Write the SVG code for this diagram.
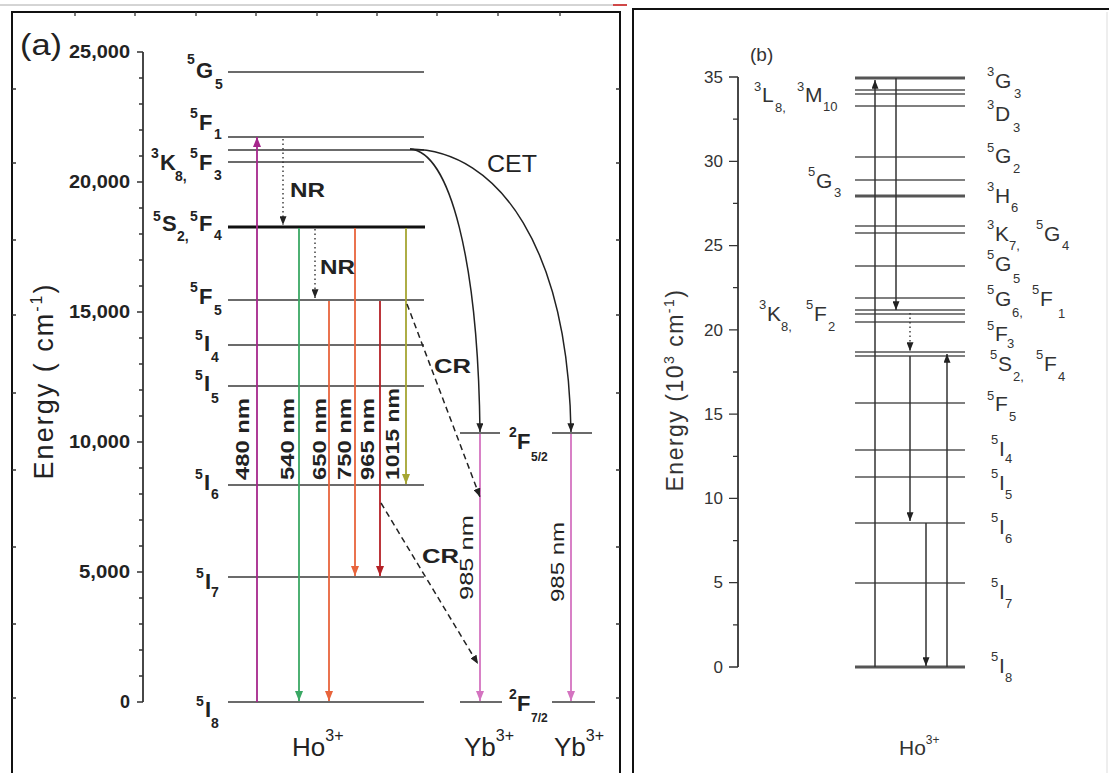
<svg xmlns="http://www.w3.org/2000/svg" width="1109" height="773" viewBox="0 0 1109 773">
<style>
.fr{stroke:#111;stroke-width:2;fill:none}
.tk{stroke:#333;stroke-width:1.3}
.ax{stroke:#333;stroke-width:1.8;fill:none}
.lv{stroke:#3a3a3a;stroke-width:1.6}
.lvb{stroke:#111;stroke-width:3}
.lvr{stroke:#555;stroke-width:1.5}
.lvrb{stroke:#555;stroke-width:3}
.ta{font-family:"Liberation Sans",Arial,sans-serif;font-weight:bold;fill:#222}
.tr{font-family:"Liberation Sans",Arial,sans-serif;fill:#333}
.m{font-size:22px}.s{font-size:14px}
.mr{font-size:21px}.sr{font-size:13px}
.wl{font-family:"Liberation Sans",Arial,sans-serif;font-weight:bold;font-size:18px;fill:#222}
.yb{font-family:"Liberation Sans",Arial,sans-serif;font-size:19px;fill:#222}
.dot{stroke:#333;stroke-width:1.4;stroke-dasharray:1.5,3;fill:none}
.dash{stroke:#222;stroke-width:1.5;stroke-dasharray:6,4;fill:none}
.cet{stroke:#222;stroke-width:1.5;fill:none}
.vr{stroke:#333;stroke-width:1.5;fill:none}
</style>
<defs>
<marker id="aK" viewBox="0 0 10 8" refX="10" refY="4" markerWidth="9" markerHeight="7" markerUnits="userSpaceOnUse" orient="auto"><path d="M0,0L10,4L0,8z" fill="#222"/></marker>
<marker id="aM" viewBox="0 0 10 8" refX="10" refY="4" markerWidth="10" markerHeight="8" markerUnits="userSpaceOnUse" orient="auto"><path d="M0,0L10,4L0,8z" fill="#a6268c"/></marker>
<marker id="aG" viewBox="0 0 10 8" refX="10" refY="4" markerWidth="10" markerHeight="8" markerUnits="userSpaceOnUse" orient="auto"><path d="M0,0L10,4L0,8z" fill="#3aa864"/></marker>
<marker id="aO" viewBox="0 0 10 8" refX="10" refY="4" markerWidth="10" markerHeight="8" markerUnits="userSpaceOnUse" orient="auto"><path d="M0,0L10,4L0,8z" fill="#e8643c"/></marker>
<marker id="aR" viewBox="0 0 10 8" refX="10" refY="4" markerWidth="10" markerHeight="8" markerUnits="userSpaceOnUse" orient="auto"><path d="M0,0L10,4L0,8z" fill="#b52025"/></marker>
<marker id="aY" viewBox="0 0 10 8" refX="10" refY="4" markerWidth="10" markerHeight="8" markerUnits="userSpaceOnUse" orient="auto"><path d="M0,0L10,4L0,8z" fill="#a5a532"/></marker>
<marker id="aP" viewBox="0 0 10 8" refX="10" refY="4" markerWidth="10" markerHeight="8" markerUnits="userSpaceOnUse" orient="auto"><path d="M0,0L10,4L0,8z" fill="#d473c0"/></marker>
</defs>
<rect width="1109" height="773" fill="#fff"/>

<g id="frames">
<line x1="0" y1="5" x2="613" y2="5" stroke="#aaa" stroke-width="1"/>
<line x1="613" y1="5" x2="627" y2="5" stroke="#d04848" stroke-width="2"/>
<path class="fr" d="M12,790V12H620V790"/>
<path class="fr" d="M633,790V9H1109"/>
<line x1="1107" y1="12" x2="1107" y2="773" stroke="#ddd" stroke-width="1"/>
<path class="tk" d="M12,89h4M12,163h4M12,240h4M12,315h4M12,393h4M12,470h4M12,547h4M12,624h4M12,698h4
M620,89h-4M620,163h-4M620,240h-4M620,315h-4M620,393h-4M620,470h-4M620,547h-4M620,624h-4M620,698h-4
M75,12v4M135,12v4M196,12v4M256,12v4M317,12v4M377,12v4M437,12v4M498,12v4M560,12v4"/>
</g>

<g id="axis-a">
<text x="20" y="55" font-family="Liberation Sans,Arial,sans-serif" font-size="30" fill="#222" textLength="42" lengthAdjust="spacingAndGlyphs">(a)</text>
<path class="ax" d="M143,52V702"/>
<path class="tk" d="M137,52h6M137,182h6M137,312h6M137,442h6M137,572h6M137,702h6
M139,78h4M139,104h4M139,130h4M139,156h4M139,208h4M139,234h4M139,260h4M139,286h4M139,338h4M139,364h4M139,390h4M139,416h4M139,468h4M139,494h4M139,520h4M139,546h4M139,598h4M139,624h4M139,650h4M139,676h4"/>
<g class="ta" font-size="18" text-anchor="end">
<text x="130" y="58" textLength="61" lengthAdjust="spacingAndGlyphs">25,000</text>
<text x="130" y="188" textLength="61" lengthAdjust="spacingAndGlyphs">20,000</text>
<text x="130" y="318" textLength="61" lengthAdjust="spacingAndGlyphs">15,000</text>
<text x="130" y="448" textLength="61" lengthAdjust="spacingAndGlyphs">10,000</text>
<text x="130" y="578" textLength="51" lengthAdjust="spacingAndGlyphs">5,000</text>
<text x="130" y="708">0</text>
</g>
<text transform="translate(53,381) rotate(-90)" text-anchor="middle" font-family="Liberation Sans,Arial,sans-serif" font-size="27" letter-spacing="2" fill="#222">Energy ( cm<tspan font-size="16" dy="-11">-1</tspan><tspan dy="11">)</tspan></text>
</g>

<g id="level-a-5G5"><line class="lv" x1="228" y1="72" x2="424" y2="72" stroke="#666"/><text class="ta"><tspan class="s" x="187" y="64">5</tspan><tspan class="m" x="196" y="78">G</tspan><tspan class="s" x="215" y="89">5</tspan></text></g>
<g id="level-a-5F1"><line class="lv" x1="228" y1="137" x2="424" y2="137"/><text class="ta"><tspan class="s" x="190" y="118">5</tspan><tspan class="m" x="199" y="130">F</tspan><tspan class="s" x="214" y="139">1</tspan></text></g>
<g id="level-a-3K8-5F3"><line class="lv" x1="228" y1="150" x2="424" y2="150"/><line class="lv" x1="228" y1="162" x2="424" y2="162"/><text class="ta"><tspan class="s" x="151" y="158">3</tspan><tspan class="m" x="160" y="170">K</tspan><tspan class="s" x="175" y="181">8,</tspan><tspan class="s" x="190" y="158">5</tspan><tspan class="m" x="199" y="170">F</tspan><tspan class="s" x="214" y="180">3</tspan></text></g>
<g id="level-a-5S2-5F4"><line class="lvb" x1="228" y1="227" x2="425" y2="227"/><text class="ta"><tspan class="s" x="153" y="221">5</tspan><tspan class="m" x="162" y="231">S</tspan><tspan class="s" x="177" y="241">2,</tspan><tspan class="s" x="190" y="221">5</tspan><tspan class="m" x="199" y="231">F</tspan><tspan class="s" x="214" y="240">4</tspan></text></g>
<g id="level-a-5F5"><line class="lv" x1="228" y1="300" x2="424" y2="300"/><text class="ta"><tspan class="s" x="190" y="292">5</tspan><tspan class="m" x="199" y="304">F</tspan><tspan class="s" x="214" y="315">5</tspan></text></g>
<g id="level-a-5I4"><line class="lv" x1="228" y1="345" x2="424" y2="345"/><text class="ta"><tspan class="s" x="195" y="340">5</tspan><tspan class="m" x="204" y="351">I</tspan><tspan class="s" x="211" y="362">4</tspan></text></g>
<g id="level-a-5I5"><line class="lv" x1="228" y1="386" x2="424" y2="386"/><text class="ta"><tspan class="s" x="195" y="380">5</tspan><tspan class="m" x="204" y="391">I</tspan><tspan class="s" x="211" y="403">5</tspan></text></g>
<g id="level-a-5I6"><line class="lv" x1="228" y1="485" x2="424" y2="485"/><text class="ta"><tspan class="s" x="195" y="479">5</tspan><tspan class="m" x="204" y="490">I</tspan><tspan class="s" x="211" y="499">6</tspan></text></g>
<g id="level-a-5I7"><line class="lv" x1="228" y1="577" x2="424" y2="577"/><text class="ta"><tspan class="s" x="196" y="578">5</tspan><tspan class="m" x="205" y="589">I</tspan><tspan class="s" x="211" y="597">7</tspan></text></g>
<g id="level-a-5I8"><line class="lv" x1="228" y1="702" x2="424" y2="702" stroke-width="2.4" stroke="#111"/><text class="ta"><tspan class="s" x="196" y="706">5</tspan><tspan class="m" x="205" y="717">I</tspan><tspan class="s" x="211" y="728">8</tspan></text></g>
<g id="label-ho-a"><text x="292" y="756" font-family="Liberation Sans,Arial,sans-serif" font-size="26" fill="#222">Ho<tspan font-size="16" dy="-15">3+</tspan></text></g>

<g id="yb1">
<line class="lv" x1="460" y1="433" x2="500" y2="433" stroke="#222"/>
<line class="lv" x1="460" y1="702" x2="502" y2="702" stroke="#222"/>
<text x="464" y="756" font-family="Liberation Sans,Arial,sans-serif" font-size="26" fill="#222">Yb<tspan font-size="16" dy="-15">3+</tspan></text>
</g>
<g id="yb2">
<line class="lv" x1="552" y1="433" x2="592" y2="433" stroke="#222"/>
<line class="lv" x1="552" y1="702" x2="595" y2="702" stroke="#222"/>
<text x="554" y="756" font-family="Liberation Sans,Arial,sans-serif" font-size="26" fill="#222">Yb<tspan font-size="16" dy="-15">3+</tspan></text>
</g>
<g id="yb-labels" class="ta">
<text><tspan class="s" x="509" y="437">2</tspan><tspan class="m" x="517" y="449">F</tspan><tspan font-size="12" x="531" y="461">5/2</tspan></text>
<text><tspan class="s" x="509" y="699">2</tspan><tspan class="m" x="517" y="711">F</tspan><tspan font-size="12" x="531" y="722">7/2</tspan></text>
</g>

<g id="connectors-a">
<line x1="257" y1="702" x2="257" y2="137" stroke="#a6268c" stroke-width="1.8" marker-end="url(#aM)"/>
<line x1="299" y1="228" x2="299" y2="701" stroke="#3aa864" stroke-width="1.8" marker-end="url(#aG)"/>
<line x1="329" y1="301" x2="329" y2="701" stroke="#e8643c" stroke-width="1.8" marker-end="url(#aO)"/>
<line x1="355" y1="228" x2="355" y2="576" stroke="#e8643c" stroke-width="1.8" marker-end="url(#aO)"/>
<line x1="380" y1="301" x2="380" y2="576" stroke="#b52025" stroke-width="1.8" marker-end="url(#aR)"/>
<line x1="406" y1="228" x2="406" y2="484" stroke="#a5a532" stroke-width="1.8" marker-end="url(#aY)"/>
<line x1="480" y1="434" x2="480" y2="701" stroke="#d473c0" stroke-width="1.8" marker-end="url(#aP)"/>
<line x1="571" y1="434" x2="571" y2="701" stroke="#d473c0" stroke-width="1.8" marker-end="url(#aP)"/>
<path class="dot" d="M283,139V225" marker-end="url(#aK)"/>
<path class="dot" d="M315,229V298" marker-end="url(#aK)"/>
<path class="dash" d="M407,304L480,497" marker-end="url(#aK)"/>
<path class="dash" d="M381,503L478,664" marker-end="url(#aK)"/>
<path class="cet" d="M410,149C450,152 478,260 480,432" marker-end="url(#aK)"/>
<path class="cet" d="M410,149C500,150 568,250 571,432" marker-end="url(#aK)"/>
<g class="wl">
<text transform="translate(249,480) rotate(-90)" textLength="82" lengthAdjust="spacingAndGlyphs">480 nm</text>
<text transform="translate(294,480) rotate(-90)" textLength="82" lengthAdjust="spacingAndGlyphs">540 nm</text>
<text transform="translate(326,480) rotate(-90)" textLength="82" lengthAdjust="spacingAndGlyphs">650 nm</text>
<text transform="translate(351,480) rotate(-90)" textLength="82" lengthAdjust="spacingAndGlyphs">750 nm</text>
<text transform="translate(374,480) rotate(-90)" textLength="82" lengthAdjust="spacingAndGlyphs">965 nm</text>
<text transform="translate(399,480) rotate(-90)" textLength="92" lengthAdjust="spacingAndGlyphs">1015 nm</text>
</g>
<text class="yb" transform="translate(473,600) rotate(-90)" textLength="85" lengthAdjust="spacingAndGlyphs">985 nm</text>
<text class="yb" transform="translate(564,602) rotate(-90)" textLength="80" lengthAdjust="spacingAndGlyphs">985 nm</text>
<g class="ta" font-size="21">
<text x="290" y="197" textLength="35" lengthAdjust="spacingAndGlyphs">NR</text>
<text x="320" y="274" textLength="35" lengthAdjust="spacingAndGlyphs">NR</text>
<text x="434" y="373" textLength="37" lengthAdjust="spacingAndGlyphs">CR</text>
<text x="422" y="563" textLength="37" lengthAdjust="spacingAndGlyphs">CR</text>
</g>
<text x="487" y="172" font-family="Liberation Sans,Arial,sans-serif" font-size="23" fill="#222" textLength="50" lengthAdjust="spacingAndGlyphs">CET</text>
</g>

<g id="axis-b">
<text x="750" y="61" class="tr" font-size="19">(b)</text>
<path class="ax" d="M738,77V667"/>
<path class="tk" d="M729,77h9M729,161.3h9M729,245.6h9M729,329.9h9M729,414.1h9M729,498.4h9M729,582.7h9M729,667h9
M733,119.1h5M733,203.4h5M733,287.7h5M733,372h5M733,456.3h5M733,540.6h5M733,624.9h5"/>
<g class="tr" font-size="17" text-anchor="end">
<text x="723" y="83">35</text>
<text x="723" y="167">30</text>
<text x="723" y="251">25</text>
<text x="723" y="336">20</text>
<text x="723" y="420">15</text>
<text x="723" y="504">10</text>
<text x="723" y="588">5</text>
<text x="723" y="673">0</text>
</g>
<text transform="translate(683,390) rotate(-90)" text-anchor="middle" class="tr" font-size="23" letter-spacing="1.5">Energy (10<tspan font-size="14" dy="-9">3</tspan><tspan dy="9"> cm</tspan><tspan font-size="14" dy="-9">-1</tspan><tspan dy="9">)</tspan></text>
</g>

<g id="level-b-3G3"><line class="lvrb" x1="855" y1="78" x2="965" y2="78"/><text class="tr"><tspan class="sr" x="987" y="76">3</tspan><tspan class="mr" x="995" y="88">G</tspan><tspan class="sr" x="1014" y="98">3</tspan></text></g>
<g id="level-b-3L8-3M10"><line class="lvr" x1="855" y1="90" x2="965" y2="90"/><line class="lvr" x1="855" y1="94" x2="965" y2="94"/><text class="tr"><tspan class="sr" x="754" y="91">3</tspan><tspan class="mr" x="762" y="102">L</tspan><tspan class="sr" x="775" y="112">8,</tspan><tspan class="sr" x="797" y="91">3</tspan><tspan class="mr" x="805" y="102">M</tspan><tspan class="sr" x="823" y="111">10</tspan></text></g>
<g id="level-b-3D3"><line class="lvr" x1="855" y1="106" x2="965" y2="106" stroke-width="2.4"/><text class="tr"><tspan class="sr" x="987" y="109">3</tspan><tspan class="mr" x="995" y="121">D</tspan><tspan class="sr" x="1013" y="132">3</tspan></text></g>
<g id="level-b-5G2"><line class="lvr" x1="855" y1="157" x2="965" y2="157"/><text class="tr"><tspan class="sr" x="987" y="152">5</tspan><tspan class="mr" x="995" y="163">G</tspan><tspan class="sr" x="1013" y="173">2</tspan></text></g>
<g id="level-b-5G3"><line class="lvr" x1="855" y1="180" x2="965" y2="180"/><text class="tr"><tspan class="sr" x="808" y="176">5</tspan><tspan class="mr" x="816" y="188">G</tspan><tspan class="sr" x="834" y="197">3</tspan></text></g>
<g id="level-b-3H6"><line class="lvrb" x1="855" y1="196" x2="965" y2="196" stroke-width="2.4"/><text class="tr"><tspan class="sr" x="987" y="191">3</tspan><tspan class="mr" x="995" y="203">H</tspan><tspan class="sr" x="1011" y="212">6</tspan></text></g>
<g id="level-b-3K7-5G4"><line class="lvr" x1="855" y1="226" x2="965" y2="226" stroke-width="2"/><line class="lvr" x1="855" y1="233" x2="965" y2="233"/><text class="tr"><tspan class="sr" x="987" y="229">3</tspan><tspan class="mr" x="995" y="241">K</tspan><tspan class="sr" x="1009" y="250">7,</tspan><tspan class="sr" x="1036" y="229">5</tspan><tspan class="mr" x="1044" y="241">G</tspan><tspan class="sr" x="1062" y="250">4</tspan></text></g>
<g id="level-b-5G5"><line class="lvr" x1="855" y1="266" x2="965" y2="266"/><text class="tr"><tspan class="sr" x="987" y="259">5</tspan><tspan class="mr" x="995" y="271">G</tspan><tspan class="sr" x="1013" y="283">5</tspan></text></g>
<g id="level-b-5G6-5F1"><line class="lvr" x1="855" y1="298" x2="965" y2="298"/><text class="tr"><tspan class="sr" x="987" y="294">5</tspan><tspan class="mr" x="995" y="306">G</tspan><tspan class="sr" x="1012" y="317">6,</tspan><tspan class="sr" x="1032" y="294">5</tspan><tspan class="mr" x="1040" y="306">F</tspan><tspan class="sr" x="1058" y="318">1</tspan></text></g>
<g id="level-b-3K8-5F2"><line class="lvr" x1="855" y1="310" x2="965" y2="310"/><line class="lvr" x1="855" y1="314" x2="965" y2="314"/><text class="tr"><tspan class="sr" x="759" y="309">3</tspan><tspan class="mr" x="767" y="321">K</tspan><tspan class="sr" x="781" y="331">8,</tspan><tspan class="sr" x="806" y="309">5</tspan><tspan class="mr" x="814" y="321">F</tspan><tspan class="sr" x="828" y="331">2</tspan></text></g>
<g id="level-b-5F3"><line class="lvr" x1="855" y1="322" x2="965" y2="322"/><text class="tr"><tspan class="sr" x="987" y="330">5</tspan><tspan class="mr" x="995" y="341">F</tspan><tspan class="sr" x="1007" y="348">3</tspan></text></g>
<g id="level-b-5S2-5F4"><line class="lvr" x1="855" y1="352" x2="965" y2="352"/><line class="lvr" x1="855" y1="356" x2="965" y2="356"/><text class="tr"><tspan class="sr" x="990" y="359">5</tspan><tspan class="mr" x="998" y="371">S</tspan><tspan class="sr" x="1013" y="381">2,</tspan><tspan class="sr" x="1036" y="359">5</tspan><tspan class="mr" x="1044" y="371">F</tspan><tspan class="sr" x="1058" y="381">4</tspan></text></g>
<g id="level-b-5F5"><line class="lvr" x1="855" y1="403" x2="965" y2="403" stroke-width="2.6"/><text class="tr"><tspan class="sr" x="987" y="400">5</tspan><tspan class="mr" x="995" y="411">F</tspan><tspan class="sr" x="1009" y="421">5</tspan></text></g>
<g id="level-b-5I4"><line class="lvr" x1="855" y1="450" x2="965" y2="450"/><text class="tr"><tspan class="sr" x="991" y="444">5</tspan><tspan class="mr" x="999" y="456">I</tspan><tspan class="sr" x="1005" y="463">4</tspan></text></g>
<g id="level-b-5I5"><line class="lvr" x1="855" y1="477" x2="965" y2="477"/><text class="tr"><tspan class="sr" x="991" y="478">5</tspan><tspan class="mr" x="999" y="490">I</tspan><tspan class="sr" x="1005" y="499">5</tspan></text></g>
<g id="level-b-5I6"><line class="lvr" x1="855" y1="523" x2="965" y2="523" stroke-width="2"/><text class="tr"><tspan class="sr" x="991" y="522">5</tspan><tspan class="mr" x="999" y="534">I</tspan><tspan class="sr" x="1005" y="543">6</tspan></text></g>
<g id="level-b-5I7"><line class="lvr" x1="855" y1="583" x2="965" y2="583"/><text class="tr"><tspan class="sr" x="991" y="587">5</tspan><tspan class="mr" x="999" y="599">I</tspan><tspan class="sr" x="1005" y="608">7</tspan></text></g>
<g id="level-b-5I8"><line class="lvrb" x1="855" y1="667" x2="965" y2="667" stroke-width="2.6"/><text class="tr"><tspan class="sr" x="991" y="661">5</tspan><tspan class="mr" x="999" y="673">I</tspan><tspan class="sr" x="1005" y="682">8</tspan></text></g>
<g id="label-ho-b"><text x="899" y="755" class="tr" font-size="21">Ho<tspan font-size="12" dy="-11">3+</tspan></text></g>

<g id="connectors-b">
<line class="vr" x1="875" y1="667" x2="875" y2="80" marker-end="url(#aK)"/>
<line class="vr" x1="896" y1="78" x2="896" y2="310" marker-end="url(#aK)"/>
<path class="dot" d="M910,313V351" marker-end="url(#aK)"/>
<line class="vr" x1="910" y1="356" x2="910" y2="521" marker-end="url(#aK)"/>
<line class="vr" x1="926" y1="523" x2="926" y2="666" marker-end="url(#aK)"/>
<line class="vr" x1="947" y1="667" x2="947" y2="354" marker-end="url(#aK)"/>
</g>
</svg>
